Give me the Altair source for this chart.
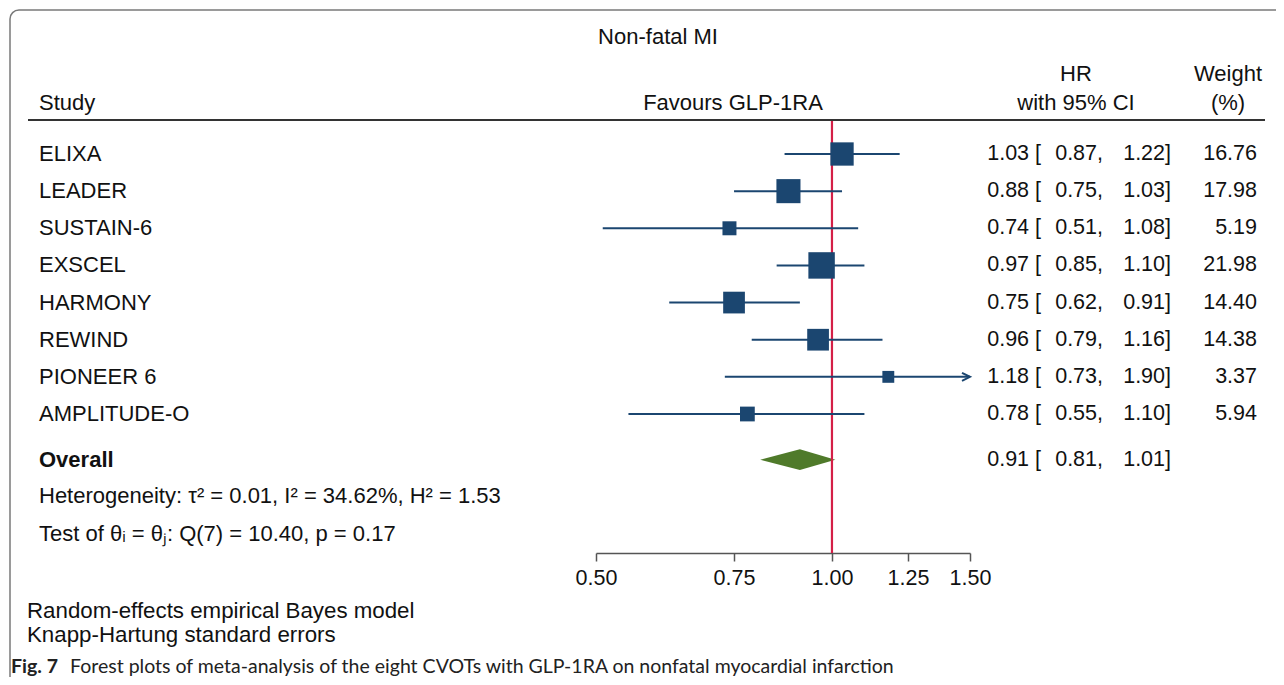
import altair as alt
import pandas as pd

# ---- data ----
studies = ["ELIXA", "LEADER", "SUSTAIN-6", "EXSCEL", "HARMONY", "REWIND", "PIONEER 6", "AMPLITUDE-O"]
hr = [1.03, 0.88, 0.74, 0.97, 0.75, 0.96, 1.18, 0.78]
ci_lo = [0.87, 0.75, 0.51, 0.85, 0.62, 0.79, 0.73, 0.55]
ci_hi = [1.22, 1.03, 1.08, 1.10, 0.91, 1.16, 1.90, 1.10]
weights = [16.76, 17.98, 5.19, 21.98, 14.40, 14.38, 3.37, 5.94]
overall = [0.91, 0.81, 1.01]
x_ticks = [0.50, 0.75, 1.00, 1.25, 1.50]

FONT = "Liberation Sans"
FS = 21.5
FS_LAB = 22
NAVY = "#1b4670"
GREEN = "#4f7a2a"
RED = "#d41f47"
XMIN, XMAX = x_ticks[0], x_ticks[-1]
OV_POS = len(studies) + 0.23

df = pd.DataFrame({"study": studies, "hr": hr, "lo": ci_lo, "hi": ci_hi, "w": weights})
df["pos"] = range(len(studies))
df["hi_draw"] = df["hi"].clip(upper=XMAX)
df["est_txt"] = df["hr"].map(lambda v: f"{v:.2f} [")
df["lo_txt"] = df["lo"].map(lambda v: f"{v:.2f},")
df["hi_txt"] = df["hi"].map(lambda v: f"{v:.2f}]")
df["w_txt"] = df["w"].map(lambda v: f"{v:.2f}")
arrows = df[df["hi"] > XMAX].copy()
arrows["xa"] = XMAX

ov = pd.DataFrame({"study": ["Overall"], "pos": [OV_POS],
                   "est_txt": [f"{overall[0]:.2f} ["],
                   "lo_txt": [f"{overall[1]:.2f},"],
                   "hi_txt": [f"{overall[2]:.2f}]"]})
diamond = pd.DataFrame({
    "x": [overall[1], overall[0], overall[2]],
    "top": [OV_POS, OV_POS - 0.28, OV_POS],
    "bot": [OV_POS, OV_POS + 0.28, OV_POS],
})

xscale = alt.Scale(type="log", domain=[XMIN, XMAX], range=[588, 962], nice=False, zero=False)
yscale = alt.Scale(domain=[0, len(studies) - 1], range=[146, 406], zero=False, nice=False)
xaxis = alt.Axis(values=x_ticks, format=".2f", title=None, grid=False, tickSize=8,
                 labelFontSize=FS, labelFont=FONT, labelColor="#111", labelPadding=6,
                 domainColor="#555", tickColor="#555", domainWidth=1.5, tickWidth=1.5,
                 labelFlush=False, labelOverlap=False)


def label(text, x, y, align="left", size=FS_LAB, font=FONT, weight="normal", color="#111"):
    return alt.Chart(pd.DataFrame({"t": [text]})).mark_text(
        align=align, baseline="middle", font=font, fontSize=size, fontWeight=weight, color=color
    ).encode(x=alt.value(x), y=alt.value(y), text="t:N")


base = alt.Chart(df)

frame = alt.Chart(pd.DataFrame({"a": [0]})).mark_rect(
    cornerRadius=9, fillOpacity=0, stroke="#7a7a7a", strokeWidth=1.5
).encode(x=alt.value(2), x2=alt.value(1500), y=alt.value(2), y2=alt.value(1000))

header_rule = alt.Chart(pd.DataFrame({"a": [0]})).mark_rule(color="#333", strokeWidth=2).encode(
    x=alt.value(20), x2=alt.value(1257), y=alt.value(112))

dia = alt.Chart(diamond).mark_area(color=GREEN, orient="vertical", opacity=1).encode(
    x=alt.X("x:Q", scale=xscale, axis=xaxis),
    y=alt.Y("top:Q", scale=yscale, axis=None),
    y2="bot:Q",
)

null_line = alt.Chart(pd.DataFrame({"v": [1.0]})).mark_rule(color=RED, strokeWidth=2.2).encode(
    x=alt.X("v:Q", scale=xscale, axis=xaxis), y=alt.value(113), y2=alt.value(545))

ci = base.mark_rule(color=NAVY, strokeWidth=2).encode(
    x=alt.X("lo:Q", scale=xscale, axis=xaxis),
    x2="hi_draw:Q",
    y=alt.Y("pos:Q", scale=yscale, axis=None),
)

squares = base.mark_point(shape="square", filled=True, color=NAVY, opacity=1).encode(
    x=alt.X("hr:Q", scale=xscale, axis=xaxis),
    y=alt.Y("pos:Q", scale=yscale, axis=None),
    size=alt.Size("w:Q", scale=alt.Scale(domain=[0, 22], range=[40, 700]), legend=None),
)

arrow = alt.Chart(arrows).mark_point(shape="M-2,-1L0,0L-2,1", filled=False, color=NAVY,
                                     strokeWidth=2, size=64, opacity=1).encode(
    x=alt.X("xa:Q", scale=xscale, axis=xaxis),
    y=alt.Y("pos:Q", scale=yscale, axis=None),
)


def col(data, field, x, align, weight="normal", size=FS):
    return alt.Chart(data).mark_text(align=align, baseline="middle", font=FONT, fontSize=size,
                                     fontWeight=weight, color="#111").encode(
        x=alt.value(x), y=alt.Y("pos:Q", scale=yscale, axis=None), text=f"{field}:N")


texts = [
    col(df, "study", 31, "left", size=FS_LAB),
    col(df, "est_txt", 1033, "right"),
    col(df, "lo_txt", 1095, "right"),
    col(df, "hi_txt", 1163, "right"),
    col(df, "w_txt", 1249, "right"),
    col(ov, "study", 31, "left", weight="bold", size=FS_LAB),
    col(ov, "est_txt", 1033, "right"),
    col(ov, "lo_txt", 1095, "right"),
    col(ov, "hi_txt", 1163, "right"),
]

labels = [
    label("Non-fatal MI", 650, 29, "center"),
    label("HR", 1068, 66, "center"),
    label("Weight", 1220, 66, "center"),
    label("Study", 31, 95),
    label("Favours GLP-1RA", 725, 95, "center"),
    label("with 95% CI", 1068, 95, "center"),
    label("(%)", 1220, 95, "center"),
    label("Heterogeneity: \u03c4\u00b2 = 0.01, I\u00b2 = 34.62%, H\u00b2 = 1.53", 31, 488),
    label("Test of \u03b8\u1d62 = \u03b8\u2c7c: Q(7) = 10.40, p = 0.17", 31, 526),
    label("Random-effects empirical Bayes model", 19, 603, size=22.3),
    label("Knapp-Hartung standard errors", 19, 627, size=22.3),
    label("Fig. 7", 3, 659, size=19.5, font="Lato", weight="bold", color="#222"),
    label("Forest plots of meta-analysis of the eight CVOTs with GLP-1RA on nonfatal myocardial infarction",
          62, 659, size=19.5, font="Lato", color="#222"),
]

chart = alt.layer(frame, header_rule, dia, null_line, ci, squares, arrow, *texts, *labels).properties(
    width=1268, height=545,
    autosize=alt.AutoSizeParams(type="none"),
    padding={"left": 0, "top": 0, "right": 0, "bottom": 124},
    background="white",
).configure_view(stroke=None)

chart.save("out.html", embed_options={"renderer": "svg", "actions": False})
